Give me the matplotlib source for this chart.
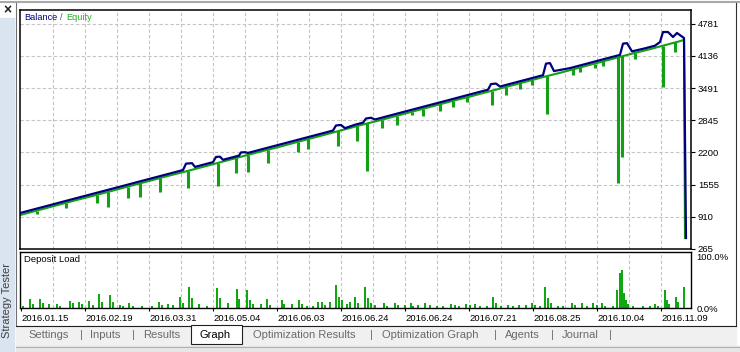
import numpy as np
import matplotlib
matplotlib.use('Agg')
import matplotlib.pyplot as plt
from matplotlib.patches import Rectangle
from matplotlib.lines import Line2D

plt.rcParams['font.family'] = ['Liberation Sans', 'DejaVu Sans']

W, H = 740, 352

#%% data (x = deal number)
bal_x = [0, 15, 30, 45, 60, 75, 90, 105, 120, 135, 150, 163, 166, 172, 175, 185, 193, 196, 200, 203,
         215, 219, 221, 225, 228, 245, 260, 275, 290, 305, 313, 316, 321, 325, 335, 343, 346, 351, 355, 370,
         385, 400, 415, 430, 445, 460, 468, 471, 476, 480, 495, 510, 523, 526, 530, 534, 550, 565, 580, 595,
         600, 603, 607, 612, 625, 635, 640, 643, 648, 653, 657, 664, 666]
bal_y = [986, 1065, 1144, 1224, 1303, 1382, 1461, 1540, 1620, 1699, 1778, 1847, 1975, 1985, 1910, 1963, 2005, 2110, 2115, 2052,
         2115, 2136, 2200, 2205, 2190, 2280, 2359, 2438, 2517, 2596, 2639, 2740, 2750, 2686, 2755, 2797, 2880, 2895, 2860, 2940,
         3019, 3098, 3177, 3256, 3336, 3415, 3457, 3570, 3580, 3520, 3600, 3679, 3748, 3980, 3990, 3830, 3890, 3969, 4049, 4128,
         4155, 4380, 4390, 4225, 4286, 4339, 4413, 4613, 4613, 4513, 4593, 4493, 485]

eq_x = [0, 15, 30, 45, 60, 75, 90, 105, 120, 135, 150, 165, 180, 195, 210, 225, 240, 255, 270, 285,
        300, 315, 330, 345, 360, 375, 390, 405, 420, 435, 450, 465, 480, 495, 510, 525, 540, 555, 570, 585,
        600, 615, 630, 645, 660, 664, 665]
eq_y = [945, 1025, 1105, 1185, 1265, 1340, 1420, 1500, 1580, 1660, 1740, 1815, 1895, 1975, 2055, 2135, 2215, 2290, 2370, 2450,
        2530, 2610, 2690, 2770, 2845, 2925, 3005, 3085, 3165, 3245, 3320, 3400, 3480, 3560, 3640, 3720, 3795, 3875, 3955, 4035,
        4115, 4195, 4270, 4350, 4430, 4455, 485]

# equity drawdowns
dip_x = [17, 46, 77, 88, 108, 120, 140, 168, 198, 216, 228, 248, 278, 288, 318, 337, 347, 362, 377, 392,
         403, 420, 433, 447, 472, 486, 500, 512, 527, 553, 560, 575, 583, 598, 602, 615, 643, 655]
dip_top = [1035, 1190, 1350, 1410, 1515, 1580, 1685, 1835, 1990, 2085, 2150, 2255, 2415, 2465, 2625, 2725, 2780, 2855, 2935, 3015,
           3075, 3165, 3230, 3305, 3440, 3510, 3585, 3650, 3730, 3865, 3905, 3980, 4025, 4105, 4125, 4195, 4340, 4405]
dip_low = [966, 1087, 1187, 1107, 1287, 1307, 1407, 1487, 1528, 1788, 1808, 1988, 2209, 2269, 2329, 2429, 1828, 2690, 2750, 2960,
           2930, 3030, 3111, 3211, 3151, 3351, 3480, 3560, 2970, 3760, 3820, 3890, 3930, 1588, 2105, 4080, 3511, 4213]

load_x = [3, 10, 13, 20, 23, 29, 37, 40, 50, 53, 59, 62, 69, 73, 79, 82, 90, 93, 100, 103,
          109, 113, 122, 132, 139, 142, 148, 153, 160, 163, 169, 172, 179, 187, 197, 200, 208, 217, 219, 227,
          230, 233, 241, 247, 250, 262, 264, 272, 279, 282, 287, 293, 298, 302, 305, 310, 316, 319, 322, 327,
          330, 335, 338, 345, 348, 351, 355, 364, 367, 375, 378, 385, 391, 393, 398, 405, 410, 417, 423, 431,
          435, 439, 446, 450, 455, 460, 467, 473, 476, 481, 488, 493, 499, 506, 512, 515, 520, 525, 528, 531,
          538, 543, 552, 555, 562, 567, 573, 577, 582, 585, 593, 597, 600, 602, 604, 606, 608, 613, 623, 630,
          635, 638, 645, 647, 649, 656, 658, 664]
load_pct = [4, 18, 8, 18, 10, 8, 8, 4, 14, 10, 12, 8, 14, 6, 27, 12, 25, 12, 6, 4,
            10, 4, 4, 4, 12, 6, 8, 6, 22, 10, 41, 20, 8, 4, 39, 20, 10, 37, 18, 35,
            16, 8, 8, 18, 6, 16, 8, 8, 16, 8, 4, 4, 12, 12, 6, 12, 45, 22, 16, 8,
            12, 22, 10, 41, 20, 10, 6, 10, 4, 10, 6, 6, 10, 4, 6, 10, 6, 4, 4, 8,
            6, 4, 8, 6, 8, 4, 4, 22, 10, 4, 6, 4, 6, 6, 10, 6, 4, 41, 20, 10,
            4, 4, 10, 6, 10, 4, 10, 6, 10, 4, 4, 35, 69, 75, 29, 16, 8, 4, 4, 4,
            8, 4, 35, 16, 8, 22, 12, 41]

date_pos = [1, 65, 129, 193, 257, 321, 385, 449, 513, 577, 641]
date_labels = ['2016.01.15', '2016.02.19', '2016.03.31', '2016.05.04', '2016.06.03', '2016.06.24',
               '2016.06.24', '2016.07.21', '2016.08.25', '2016.10.04', '2016.11.09']
y_ticks = [265, 910, 1555, 2200, 2845, 3491, 4136, 4781]

tab_names = ['Settings', 'Inputs', 'Results', 'Graph', 'Optimization Results', 'Optimization Graph', 'Agents', 'Journal']
tab_px = [28, 90, 143, 200, 253, 382, 505, 562]
sep_px = [81, 133, 371, 495, 552, 610]

BLUE = '#00007f'
GREEN = '#14a014'


def fx(px):
    return px / W


def fy(py):
    return 1 - py / H


fig = plt.figure(figsize=(W / 100, H / 100), dpi=100)

# window chrome
fig.add_artist(Rectangle((0, 0), fx(14), fy(18), transform=fig.transFigure, color='#d9e4f0', zorder=0))
fig.add_artist(Rectangle((fx(16), fy(346)), fx(720), (346 - 326) / H, transform=fig.transFigure,
                         color='#f0f0f0', zorder=0))
fig.add_artist(Rectangle((fx(16), 0), fx(724), fy(346), transform=fig.transFigure, color='#e6e6e6', zorder=0))
fig.add_artist(Line2D([0, 1], [fy(1.5), fy(1.5)], transform=fig.transFigure, color='#a8a8a8', lw=1.5))
fig.add_artist(Line2D([fx(16), fx(16)], [fy(3), fy(325)], transform=fig.transFigure, color='#707070', lw=0.8))
fig.add_artist(Line2D([fx(736), fx(736)], [fy(3), fy(325)], transform=fig.transFigure, color='#303030', lw=0.8))
fig.add_artist(Line2D([fx(16), fx(736)], [fy(325.5), fy(325.5)], transform=fig.transFigure, color='#202020', lw=0.8))
fig.add_artist(Line2D([fx(16), fx(740)], [fy(346.5), fy(346.5)], transform=fig.transFigure, color='#b0b0b0', lw=0.8))
fig.text(fx(7), fy(10), '×', ha='center', va='center', fontsize=10, fontweight='bold', color='#202020')
fig.text(fx(7.5), fy(300), 'Strategy Tester', rotation=90, ha='center', va='center', fontsize=8, color='#404040')

# tabs
fig.add_artist(Rectangle((fx(191), fy(344)), (242 - 191) / W, (344 - 325) / H, transform=fig.transFigure,
                         facecolor='white', edgecolor='#202020', lw=0.8, zorder=2))
for name, px in zip(tab_names, tab_px):
    fig.text(fx(px), fy(335), name, ha='left', va='center', fontsize=8,
             color='black' if name == 'Graph' else '#6a6a6a', zorder=3)
for px in sep_px:
    fig.text(fx(px), fy(335), '|', ha='center', va='center', fontsize=8, color='#6a6a6a')

#%% balance / equity panel
ax = fig.add_axes([fx(20), fy(249), (691 - 20) / W, (249 - 10) / H])
ax.set_xlim(0, 671)
ax.set_ylim(265, 5054)
for gx in np.arange(33, 650, 32):
    ax.axvline(gx, color='#c4c4c4', lw=0.8, ls=(0, (3, 2)), zorder=0)
for gy in y_ticks[1:]:
    ax.axhline(gy, color='#c4c4c4', lw=0.8, ls=(0, (3, 2)), zorder=0)

ax.plot(eq_x, eq_y, color=GREEN, lw=1.5, zorder=2)
ax.vlines(dip_x, dip_low, dip_top, color=GREEN, lw=2.2, zorder=2)
ax.plot(bal_x, bal_y, color=BLUE, lw=1.6, zorder=3)

ax.yaxis.tick_right()
ax.set_yticks(y_ticks)
ax.set_yticklabels([str(v) for v in y_ticks])
ax.tick_params(axis='y', length=3, width=0.8, pad=2, labelsize=6.8)
ax.set_xticks([])
for s in ax.spines.values():
    s.set_linewidth(1.1)

ax.text(4 / 671, 1 - 8 / 239, 'Balance', transform=ax.transAxes, color=BLUE, fontsize=6.6, va='center', ha='left')
ax.text(40 / 671, 1 - 8 / 239, '/', transform=ax.transAxes, color='#505050', fontsize=6.6, va='center', ha='left')
ax.text(46 / 671, 1 - 8 / 239, 'Equity', transform=ax.transAxes, color='#22b022', fontsize=6.6, va='center', ha='left')

#%% deposit load panel
ax2 = fig.add_axes([fx(20), fy(308), (691 - 20) / W, (308 - 252) / H])
ax2.set_xlim(0, 671)
ax2.set_ylim(0, 109.8)
for gx in np.arange(33, 650, 32):
    ax2.axvline(gx, color='#c4c4c4', lw=0.8, ls=(0, (3, 2)), zorder=0)
ax2.bar(load_x, load_pct, width=2, color='#10a810', align='center', zorder=2)

ax2.yaxis.tick_right()
ax2.set_yticks([0, 100])
ax2.set_yticklabels(['0.0%', '100.0%'])
ax2.tick_params(axis='y', length=0, pad=4, labelsize=6.8)
ax2.set_xticks(date_pos)
ax2.set_xticklabels(date_labels, ha='left')
ax2.tick_params(axis='x', length=2, width=0.8, pad=2, labelsize=6.8)
for s in ax2.spines.values():
    s.set_linewidth(1.0)
ax2.text(4 / 671, 1 - 7 / 56, 'Deposit Load', transform=ax2.transAxes, fontsize=6.8, va='center', ha='left')

fig.savefig('out.png', dpi=100)
